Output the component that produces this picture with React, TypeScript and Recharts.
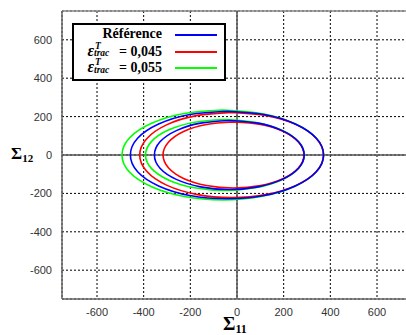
import React from "react"
import { CartesianGrid, ReferenceLine, Scatter, ScatterChart, XAxis, YAxis } from "recharts"

const X_TICKS = [-600, -400, -200, 0, 200, 400, 600]
const Y_TICKS = [-600, -400, -200, 0, 200, 400, 600]

// points, going round each ellipse from the top
const refOuter: [number, number][] = [
    [-43, 228], [-202, 211], [-336, 161], [-426, 87], [-457, 0], [-426, -87], [-336, -161], [-202, -211],
    [-43, -228], [116, -211], [250, -161], [340, -87], [371, 0], [340, 87], [250, 161], [116, 211], [-43, 228],
]
const refInner: [number, number][] = [
    [-33, 180], [-156, 166], [-260, 127], [-330, 69], [-354, 0], [-330, -69], [-260, -127], [-156, -166],
    [-33, -180], [90, -166], [194, -127], [264, -69], [288, 0], [264, 69], [194, 127], [90, 166], [-33, 180],
]
const eps045Outer: [number, number][] = [
    [-23, 222], [-174, 205], [-302, 157], [-387, 85], [-417, 0], [-387, -85], [-302, -157], [-174, -205],
    [-23, -222], [128, -205], [256, -157], [341, -85], [371, 0], [341, 85], [256, 157], [128, 205], [-23, 222],
]
const eps045Inner: [number, number][] = [
    [-15, 172], [-131, 159], [-229, 122], [-294, 66], [-317, 0], [-294, -66], [-229, -122], [-131, -159],
    [-15, -172], [101, -159], [199, -122], [264, -66], [287, 0], [264, 66], [199, 122], [101, 159], [-15, 172],
]
const eps055Outer: [number, number][] = [
    [-61, 234], [-226, 216], [-366, 165], [-460, 90], [-493, 0], [-460, -90], [-366, -165], [-226, -216],
    [-61, -234], [104, -216], [244, -165], [338, -90], [371, 0], [338, 90], [244, 165], [104, 216], [-61, 234],
]
const eps055Inner: [number, number][] = [
    [-52, 185], [-182, 171], [-292, 131], [-366, 71], [-392, 0], [-366, -71], [-292, -131], [-182, -171],
    [-52, -185], [78, -171], [188, -131], [262, -71], [288, 0], [262, 71], [188, 131], [78, 171], [-52, 185],
]

const toPoints = (pts: [number, number][]) => pts.map(([x, y]) => ({ x, y }))

const series = [
    { id: "g1", color: "#00ff00", pts: eps055Outer },
    { id: "g2", color: "#00ff00", pts: eps055Inner },
    { id: "r1", color: "#ff0000", pts: eps045Outer },
    { id: "r2", color: "#ff0000", pts: eps045Inner },
    { id: "b1", color: "#0000ff", pts: refOuter },
    { id: "b2", color: "#0000ff", pts: refInner },
]

const legendRows = [
    { color: "#0000ff", label: null as string | null },
    { color: "#ff0000", label: "0,045" },
    { color: "#00ff00", label: "0,055" },
]

const noDot = () => <g />
const serif = "'Liberation Serif', 'DejaVu Serif', serif"
const tickStyle = { fontFamily: "'Liberation Sans', Arial, sans-serif", fontSize: 11, fill: "#333" }

// ε with T above and "trac" below: one two-line span so they stay stacked
function Epsilon({ value }: { value: string }) {
    return (
        <span style={{ whiteSpace: "nowrap" }}>
            <span style={{ fontStyle: "italic", fontSize: 16 }}>ε</span>
            <span style={{ position: "relative", display: "inline-block", width: 25, height: 0, fontStyle: "italic" }}>
                <span
                    style={{
                        position: "absolute", left: 0, top: -13, fontSize: 9.5, lineHeight: "7.5px",
                        whiteSpace: "pre", textAlign: "left", textIndent: 1,
                    }}
                >
                    {"T\ntrac"}
                </span>
            </span>
            <span>= {value}</span>
        </span>
    )
}

export default function App() {
    return (
        <div style={{ position: "fixed", left: 0, top: 0, width: 406, height: 335, overflow: "hidden", background: "#fff" }}>
            <ScatterChart width={420} height={335} margin={{ top: 11, right: 8, left: 2, bottom: 6 }}>
                <CartesianGrid stroke="#000" strokeDasharray="2 2" strokeWidth={1} />
                <XAxis
                    type="number"
                    dataKey="x"
                    domain={[-750, 750]}
                    ticks={X_TICKS}
                    allowDataOverflow
                    height={30}
                    tickLine={false}
                    tickSize={6}
                    tickMargin={3}
                    tick={tickStyle}
                    axisLine={{ stroke: "#666", strokeWidth: 1.5 }}
                />
                <YAxis
                    type="number"
                    dataKey="y"
                    domain={[-750, 750]}
                    ticks={Y_TICKS}
                    allowDataOverflow
                    width={60}
                    tickLine={false}
                    tickSize={6}
                    tickMargin={4}
                    tick={tickStyle}
                    axisLine={{ stroke: "#666", strokeWidth: 1.5 }}
                />
                <ReferenceLine y={750} stroke="#888" strokeWidth={1.5} />
                <ReferenceLine x={0} stroke="#555" strokeWidth={1.5} />
                <ReferenceLine y={0} stroke="#555" strokeWidth={1.5} />
                {series.map((s) => (
                    <Scatter
                        key={s.id}
                        data={toPoints(s.pts)}
                        fill={s.color}
                        line={{ stroke: s.color, strokeWidth: 1.6 }}
                        lineJointType="natural"
                        shape={noDot}
                        legendType="none"
                        isAnimationActive={false}
                    />
                ))}
            </ScatterChart>

            <div
                style={{
                    position: "absolute", left: 72, top: 23, width: 150, height: 54,
                    border: "2px solid #000", background: "#fff", fontFamily: serif, fontWeight: "bold", fontSize: 14,
                }}
            >
                {legendRows.map((row, i) => (
                    <div key={i} style={{ position: "absolute", left: 0, top: 1 + i * 16.7, height: 16, width: 150 }}>
                        <div style={{ position: "absolute", right: 62, top: 0, lineHeight: "16px", textAlign: "right" }}>
                            {row.label === null ? "Référence" : <Epsilon value={row.label} />}
                        </div>
                        <div style={{ position: "absolute", left: 101, top: 8, width: 42, height: 2, background: row.color }} />
                    </div>
                ))}
            </div>

            <div style={{ position: "absolute", left: 223, top: 314, fontFamily: serif, fontWeight: "bold", fontSize: 19, lineHeight: "19px" }}>
                Σ<span style={{ fontSize: 12, lineHeight: 0, verticalAlign: -3 }}>11</span>
            </div>
            <div style={{ position: "absolute", left: 11, top: 145, fontFamily: serif, fontWeight: "bold", fontSize: 17, lineHeight: "17px" }}>
                Σ<span style={{ fontSize: 11, lineHeight: 0, verticalAlign: -3 }}>12</span>
            </div>
        </div>
    )
}
